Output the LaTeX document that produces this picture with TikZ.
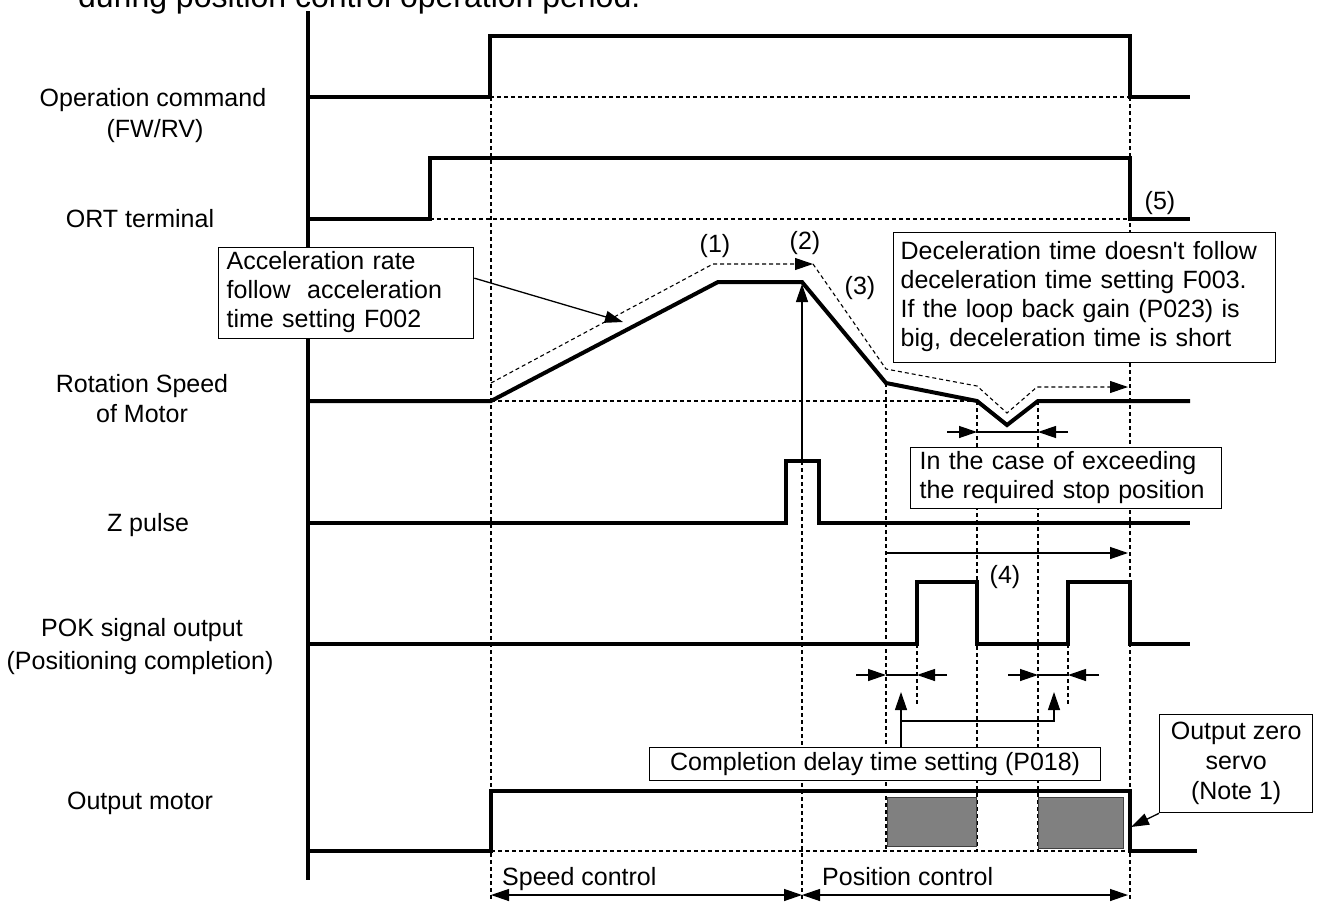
\documentclass[tikz,border=0pt]{standalone}
\usepackage{fontspec}
\setmainfont{Liberation Sans}
\usetikzlibrary{arrows.meta,calc}
\begin{document}
\begin{tikzpicture}[x=1pt,y=-1pt,
  sig/.style={line width=4pt, line join=miter},
  thinl/.style={line width=1.3pt},
  dsh/.style={line width=1.1pt, dash pattern=on 4pt off 3pt},
  tip/.style={-{Triangle[length=18pt,width=12pt]}},
  both/.style={{Triangle[length=18pt,width=12pt]}-{Triangle[length=18pt,width=12pt]}},
  lbl/.style={font=\fontsize{25}{30}\selectfont, inner sep=0pt, anchor=base},
  callout/.style={draw, line width=1.3pt, fill=white, font=\fontsize{25}{29}\selectfont, inner ysep=0pt, anchor=north west},
  graybox/.style={fill={rgb,255:red,128;green,128;blue,128}, draw=black!75, line width=1pt},
]
\useasboundingbox (0,0) rectangle (1318,902);
\fill[white] (0,0) rectangle (1318,902);

% title (cut at the top, as in the source)
\node[lbl, anchor=base west, font=\fontsize{32}{38}\selectfont] (title) at (78,8) {during position control operation period.};

% dashed guide lines
\draw[dsh] (490,97) -- (1130,97);
\draw[dsh] (430,219) -- (1130,219);
\draw[dsh] (491,401) -- (977,401);
\draw[dsh] (491,851) -- (1130,851);
\draw[dsh] (491,97) -- (491,902);
\draw[dsh] (802,461) -- (802,902);
\draw[dsh] (886,383) -- (886,851);
\draw[dsh] (977,401) -- (977,851);
\draw[dsh] (1038,401) -- (1038,851);
\draw[dsh] (1130,97) -- (1130,902);
\draw[dsh] (917,644) -- (917,705);
\draw[dsh] (1068,644) -- (1068,705);

% gray boxes
\draw[graybox] (887,797) rectangle (976,846);
\draw[graybox] (1038,797) rectangle (1123,848);

% axis
\draw[sig] (308,11) -- (308,880);

% signals
\draw[sig] (308,97) -- (490,97) -- (490,36) -- (1130,36) -- (1130,97) -- (1190,97);
\draw[sig] (308,219) -- (430,219) -- (430,158) -- (1130,158) -- (1130,219) -- (1190,219);
\draw[sig] (308,401) -- (491,401) -- (718,282) -- (802,282) -- (886,383) -- (977,401) -- (1007,425) -- (1038,401) -- (1190,401);
\draw[sig] (308,523) -- (786,523) -- (786,461) -- (819,461) -- (819,523) -- (1190,523);
\draw[sig] (308,644) -- (917,644) -- (917,582) -- (977,582) -- (977,644) -- (1068,644) -- (1068,582) -- (1130,582) -- (1130,644) -- (1190,644);
\draw[sig] (308,851) -- (491,851) -- (491,791) -- (1130,791) -- (1130,851) -- (1197,851);

% dashed offset speed curve
\draw[dsh, tip] (491,383) -- (713,264) -- (813,264);
\draw[dsh, tip] (813,264) -- (886,369) -- (977,386) -- (1007,413) -- (1037,387) -- (1128,387);

% Z pulse -> peak
\draw[thinl, tip] (802,461) -- (802,284);

% width arrows (speed)
\draw[thinl, tip] (947,432) -- (977,432);
\draw[thinl] (977,432) -- (1038,432);
\draw[thinl, tip] (1068,432) -- (1038,432);

% (4)
\draw[thinl, tip] (886,553) -- (1128,553);

% POK width arrows
\draw[thinl, tip] (856,675) -- (886,675);
\draw[thinl] (886,675) -- (917,675);
\draw[thinl, tip] (947,675) -- (917,675);
\draw[thinl, tip] (1008,675) -- (1038,675);
\draw[thinl] (1038,675) -- (1068,675);
\draw[thinl, tip] (1099,675) -- (1068,675);

% bottom ranges
\draw[thinl, both] (491,895) -- (802,895);
\draw[thinl, both] (802,895) -- (1128,895);

% callouts
\node[callout, inner xsep=8pt, text width=239pt, minimum height=91pt, align=left] (accbox) at (218,247)
  {\strut Acceleration rate\\\strut follow\ \ acceleration\\\strut time setting F002};
\node[callout, inner xsep=7pt, text width=368pt, minimum height=130pt, align=left] (decbox) at (893,232)
  {\strut Deceleration time doesn\textquotesingle t follow\\\strut deceleration time setting F003.\\\strut If the loop back gain (P023) is\\\strut big, deceleration time is short};
\node[callout, inner xsep=9pt, text width=293pt, minimum height=61pt, align=left] (exbox) at (910,447)
  {\strut In the case of exceeding\\\strut the required stop position};
\node[callout, inner sep=0pt, minimum width=451pt, minimum height=33pt] (compbox) at (649,747)
  {Completion delay time setting (P018)};
\node[callout, inner sep=0pt, minimum width=153pt, minimum height=98pt, align=center, font=\fontsize{25}{30}\selectfont] (ozbox) at (1159,714)
  {\strut Output zero\\\strut servo\\\strut (Note 1)};

% callout connectors
\coordinate (acctip) at (623,322);
\draw[thinl, tip] ($(accbox.east)+(0,-15)$) -- (acctip);
\coordinate (oztip) at (1131,827);
\draw[thinl, tip] (ozbox.south west) -- (oztip);
\coordinate (cdl) at (901,692);
\coordinate (cdr) at (1054,692);
\draw[thinl, tip] (cdl |- compbox.north) -- (cdl);
\draw[thinl, tip] (901,721) -- (1054,721) -- (cdr);

% numbered marks
\node[lbl] (n1) at (715,252) {(1)};
\node[lbl] (n2) at (805,249) {(2)};
\node[lbl] (n3) at (860,294) {(3)};
\node[lbl] (n4) at (1005,583) {(4)};
\node[lbl] (n5) at (1160,209) {(5)};

% signal labels
\node[lbl] (l1a) at (153,106) {Operation command};
\node[lbl] (l1b) at (155,137) {(FW/RV)};
\node[lbl] (l2) at (140,227) {ORT terminal};
\node[lbl] (l3a) at (142,392) {Rotation Speed};
\node[lbl] (l3b) at (142,422) {of Motor};
\node[lbl] (l4) at (148,531) {Z pulse};
\node[lbl] (l5a) at (142,636) {POK signal output};
\node[lbl] (l5b) at (140,669) {(Positioning completion)};
\node[lbl] (l6) at (140,809) {Output motor};
\node[lbl, anchor=base west] (sc) at (502,885) {Speed control};
\node[lbl, anchor=base west] (pc) at (822,885) {Position control};
\end{tikzpicture}
\end{document}
